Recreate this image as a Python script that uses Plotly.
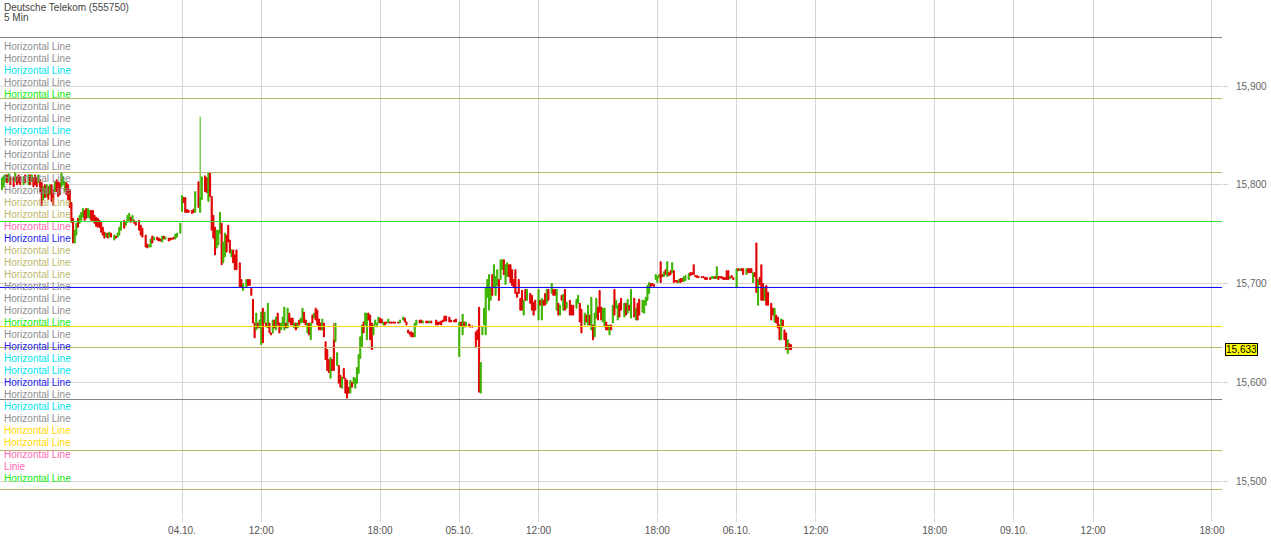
import plotly.graph_objects as go

# 5-minute bars, x = bar number in trading time (08:00-22:00, 168 bars per day; 03.10. 08:00 = 0)
# rows: (bar, open, high, low, close)
oct03 = [
    (59, 15.795, 15.807, 15.795, 15.807), (60, 15.798, 15.809, 15.798, 15.809), (61, 15.803, 15.810, 15.803, 15.810),
    (62, 15.810, 15.810, 15.802, 15.802), (63, 15.803, 15.811, 15.803, 15.811), (64, 15.808, 15.808, 15.800, 15.800),
    (66, 15.807, 15.807, 15.798, 15.798), (67, 15.803, 15.812, 15.803, 15.812), (68, 15.808, 15.808, 15.800, 15.800),
    (69, 15.810, 15.810, 15.802, 15.802), (70, 15.808, 15.808, 15.800, 15.800), (72, 15.800, 15.808, 15.800, 15.808),
    (73, 15.810, 15.810, 15.802, 15.802), (75, 15.800, 15.810, 15.800, 15.810), (76, 15.810, 15.810, 15.800, 15.800),
    (77, 15.803, 15.810, 15.803, 15.810), (78, 15.807, 15.807, 15.798, 15.798), (79, 15.810, 15.810, 15.800, 15.800),
    (80, 15.807, 15.807, 15.798, 15.798), (81, 15.802, 15.810, 15.802, 15.810), (82, 15.805, 15.805, 15.793, 15.793),
    (83, 15.802, 15.802, 15.779, 15.779), (84, 15.785, 15.798, 15.785, 15.798), (85, 15.800, 15.800, 15.787, 15.787),
    (86, 15.788, 15.800, 15.788, 15.800), (87, 15.798, 15.798, 15.785, 15.785), (88, 15.790, 15.800, 15.790, 15.800),
    (89, 15.800, 15.800, 15.783, 15.783), (90, 15.795, 15.795, 15.779, 15.779), (91, 15.793, 15.803, 15.793, 15.803),
    (92, 15.805, 15.805, 15.793, 15.793), (93, 15.803, 15.803, 15.788, 15.788), (94, 15.802, 15.802, 15.790, 15.790),
    (95, 15.798, 15.812, 15.798, 15.812), (96, 15.800, 15.808, 15.800, 15.808), (97, 15.793, 15.803, 15.793, 15.803),
    (98, 15.802, 15.802, 15.790, 15.790), (99, 15.800, 15.800, 15.785, 15.785), (100, 15.795, 15.795, 15.777, 15.777),
    (101, 15.782, 15.782, 15.762, 15.762), (102, 15.766, 15.766, 15.741, 15.741), (103, 15.741, 15.754, 15.741, 15.754),
    (104, 15.749, 15.761, 15.749, 15.761), (105, 15.766, 15.766, 15.757, 15.757), (106, 15.761, 15.769, 15.761, 15.769),
    (107, 15.764, 15.772, 15.764, 15.772), (108, 15.767, 15.776, 15.767, 15.776), (109, 15.774, 15.774, 15.764, 15.764),
    (110, 15.776, 15.776, 15.766, 15.766), (111, 15.767, 15.776, 15.767, 15.776), (112, 15.766, 15.774, 15.766, 15.774),
    (113, 15.774, 15.774, 15.764, 15.764), (114, 15.774, 15.774, 15.764, 15.764), (115, 15.769, 15.769, 15.761, 15.761),
    (116, 15.767, 15.767, 15.758, 15.758), (117, 15.766, 15.766, 15.757, 15.757), (118, 15.764, 15.764, 15.757, 15.757),
    (119, 15.762, 15.762, 15.752, 15.752), (120, 15.757, 15.757, 15.749, 15.749), (121, 15.752, 15.752, 15.746, 15.746),
    (122, 15.747, 15.751, 15.747, 15.751), (123, 15.751, 15.751, 15.746, 15.746), (124, 15.747, 15.752, 15.747, 15.752),
    (125, 15.751, 15.751, 15.747, 15.747), (127, 15.744, 15.749, 15.744, 15.749), (128, 15.748, 15.748, 15.746, 15.746),
    (129, 15.747, 15.751, 15.747, 15.751), (130, 15.749, 15.757, 15.749, 15.757), (131, 15.754, 15.762, 15.754, 15.762),
    (133, 15.764, 15.764, 15.756, 15.756), (134, 15.759, 15.762, 15.759, 15.762), (135, 15.762, 15.769, 15.762, 15.769),
    (136, 15.764, 15.771, 15.764, 15.771), (137, 15.767, 15.767, 15.762, 15.762), (138, 15.764, 15.769, 15.764, 15.769),
    (139, 15.764, 15.764, 15.761, 15.761), (140, 15.762, 15.762, 15.759, 15.759), (142, 15.764, 15.764, 15.754, 15.754),
    (143, 15.759, 15.759, 15.749, 15.749), (144, 15.756, 15.756, 15.747, 15.747), (146, 15.749, 15.749, 15.737, 15.737),
    (147, 15.740, 15.740, 15.736, 15.736), (148, 15.737, 15.739, 15.737, 15.739), (149, 15.737, 15.745, 15.737, 15.745),
    (150, 15.748, 15.748, 15.741, 15.741), (151, 15.744, 15.747, 15.744, 15.747), (153, 15.747, 15.747, 15.744, 15.744),
    (154, 15.746, 15.746, 15.743, 15.743), (155, 15.745, 15.745, 15.743, 15.743), (156, 15.742, 15.748, 15.742, 15.748),
    (157, 15.748, 15.748, 15.745, 15.745), (158, 15.745, 15.747, 15.745, 15.747), (160, 15.746, 15.746, 15.743, 15.743),
    (161, 15.746, 15.746, 15.744, 15.744), (162, 15.746, 15.746, 15.745, 15.745), (163, 15.747, 15.747, 15.745, 15.745),
    (164, 15.745, 15.750, 15.745, 15.750), (165, 15.747, 15.751, 15.747, 15.751), (167, 15.751, 15.761, 15.751, 15.761),
]

oct04 = [
    (168, 15.773, 15.789, 15.773, 15.789), (169, 15.787, 15.787, 15.782, 15.782), (170, 15.787, 15.787, 15.772, 15.772),
    (171, 15.775, 15.775, 15.772, 15.772), (172, 15.774, 15.774, 15.772, 15.772), (174, 15.774, 15.774, 15.771, 15.771),
    (175, 15.775, 15.775, 15.772, 15.772), (176, 15.772, 15.793, 15.772, 15.793), (178, 15.803, 15.803, 15.777, 15.777),
    (179, 15.772, 15.869, 15.772, 15.787), (180, 15.785, 15.808, 15.785, 15.808), (182, 15.809, 15.809, 15.793, 15.793),
    (183, 15.807, 15.807, 15.792, 15.792), (184, 15.783, 15.812, 15.783, 15.812), (185, 15.812, 15.812, 15.788, 15.788),
    (186, 15.788, 15.788, 15.754, 15.754), (187, 15.769, 15.769, 15.746, 15.746), (188, 15.757, 15.757, 15.729, 15.729),
    (189, 15.736, 15.754, 15.736, 15.754), (190, 15.739, 15.754, 15.739, 15.754), (191, 15.751, 15.772, 15.751, 15.772),
    (192, 15.761, 15.761, 15.719, 15.719), (193, 15.721, 15.742, 15.721, 15.742), (194, 15.727, 15.751, 15.727, 15.751),
    (195, 15.749, 15.749, 15.732, 15.732), (196, 15.759, 15.759, 15.742, 15.742), (197, 15.744, 15.744, 15.731, 15.731),
    (198, 15.727, 15.734, 15.727, 15.734), (199, 15.734, 15.734, 15.721, 15.721), (200, 15.729, 15.729, 15.714, 15.714),
    (201, 15.734, 15.734, 15.714, 15.714), (203, 15.721, 15.721, 15.696, 15.696), (204, 15.704, 15.704, 15.696, 15.696),
    (205, 15.693, 15.700, 15.693, 15.700), (207, 15.696, 15.704, 15.696, 15.704), (208, 15.704, 15.704, 15.698, 15.698),
    (209, 15.704, 15.704, 15.698, 15.698), (210, 15.695, 15.695, 15.688, 15.688), (211, 15.684, 15.684, 15.660, 15.660),
    (212, 15.660, 15.660, 15.645, 15.645), (213, 15.653, 15.670, 15.653, 15.670), (214, 15.660, 15.660, 15.655, 15.655),
    (215, 15.655, 15.663, 15.655, 15.663), (216, 15.638, 15.671, 15.638, 15.671), (217, 15.675, 15.675, 15.640, 15.640),
    (218, 15.660, 15.671, 15.660, 15.671), (219, 15.660, 15.660, 15.656, 15.656), (220, 15.655, 15.680, 15.655, 15.680),
    (221, 15.660, 15.660, 15.650, 15.650), (222, 15.650, 15.650, 15.648, 15.648), (223, 15.650, 15.663, 15.650, 15.663),
    (224, 15.663, 15.663, 15.655, 15.655), (225, 15.653, 15.666, 15.653, 15.666), (226, 15.670, 15.670, 15.658, 15.658),
    (227, 15.660, 15.660, 15.650, 15.650), (228, 15.653, 15.660, 15.653, 15.660), (229, 15.656, 15.666, 15.656, 15.666),
    (230, 15.653, 15.676, 15.653, 15.676), (231, 15.660, 15.660, 15.655, 15.655), (232, 15.655, 15.675, 15.655, 15.675),
    (233, 15.670, 15.670, 15.661, 15.661), (234, 15.665, 15.665, 15.658, 15.658), (235, 15.665, 15.665, 15.658, 15.658),
    (236, 15.655, 15.660, 15.655, 15.660), (237, 15.660, 15.660, 15.653, 15.653), (238, 15.655, 15.660, 15.655, 15.660),
    (239, 15.663, 15.663, 15.658, 15.658), (240, 15.660, 15.665, 15.660, 15.665), (241, 15.661, 15.675, 15.661, 15.675),
    (242, 15.671, 15.671, 15.660, 15.660), (243, 15.663, 15.663, 15.658, 15.658), (244, 15.650, 15.660, 15.650, 15.660),
    (245, 15.660, 15.660, 15.648, 15.648), (246, 15.643, 15.660, 15.643, 15.660), (247, 15.668, 15.668, 15.660, 15.660),
    (248, 15.665, 15.670, 15.665, 15.670), (249, 15.675, 15.675, 15.663, 15.663), (250, 15.673, 15.673, 15.658, 15.658),
    (251, 15.664, 15.664, 15.653, 15.653), (252, 15.660, 15.660, 15.653, 15.653), (253, 15.653, 15.664, 15.653, 15.664),
    (254, 15.660, 15.660, 15.646, 15.646), (255, 15.641, 15.641, 15.623, 15.623), (256, 15.633, 15.633, 15.612, 15.612),
    (257, 15.623, 15.623, 15.610, 15.610), (258, 15.604, 15.625, 15.604, 15.625), (259, 15.623, 15.623, 15.612, 15.612),
    (260, 15.643, 15.660, 15.612, 15.612), (261, 15.641, 15.660, 15.641, 15.660), (262, 15.617, 15.630, 15.617, 15.630),
    (263, 15.617, 15.617, 15.599, 15.599), (264, 15.607, 15.607, 15.595, 15.595), (265, 15.594, 15.605, 15.594, 15.605),
    (266, 15.614, 15.614, 15.604, 15.604), (267, 15.604, 15.604, 15.589, 15.589), (268, 15.602, 15.602, 15.584, 15.584),
    (269, 15.595, 15.595, 15.589, 15.589), (270, 15.589, 15.602, 15.589, 15.602), (271, 15.600, 15.600, 15.595, 15.595),
    (272, 15.599, 15.605, 15.599, 15.605), (273, 15.594, 15.604, 15.594, 15.604), (274, 15.599, 15.615, 15.599, 15.615),
    (275, 15.609, 15.628, 15.609, 15.628), (276, 15.624, 15.646, 15.624, 15.646), (277, 15.636, 15.658, 15.636, 15.658),
    (278, 15.661, 15.661, 15.650, 15.650), (279, 15.658, 15.670, 15.658, 15.670), (280, 15.643, 15.670, 15.643, 15.670),
    (281, 15.670, 15.670, 15.663, 15.663), (282, 15.668, 15.668, 15.643, 15.643), (283, 15.660, 15.660, 15.633, 15.633),
    (284, 15.648, 15.658, 15.648, 15.658), (285, 15.658, 15.663, 15.658, 15.663), (286, 15.656, 15.660, 15.656, 15.660),
    (287, 15.660, 15.666, 15.660, 15.666), (288, 15.665, 15.665, 15.660, 15.660), (289, 15.664, 15.664, 15.660, 15.660),
    (290, 15.658, 15.661, 15.658, 15.661), (291, 15.661, 15.661, 15.658, 15.658), (292, 15.661, 15.661, 15.660, 15.660),
    (293, 15.660, 15.664, 15.660, 15.664), (294, 15.661, 15.661, 15.660, 15.660), (295, 15.661, 15.661, 15.660, 15.660),
    (296, 15.661, 15.661, 15.660, 15.660), (297, 15.661, 15.661, 15.660, 15.660), (299, 15.661, 15.661, 15.660, 15.660),
    (300, 15.660, 15.663, 15.660, 15.663), (302, 15.663, 15.666, 15.663, 15.666), (303, 15.665, 15.665, 15.661, 15.661),
    (304, 15.661, 15.661, 15.658, 15.658), (305, 15.653, 15.653, 15.650, 15.650), (306, 15.651, 15.651, 15.648, 15.648),
    (307, 15.651, 15.651, 15.646, 15.646), (308, 15.650, 15.650, 15.646, 15.646), (309, 15.646, 15.660, 15.646, 15.660),
    (310, 15.658, 15.663, 15.658, 15.663), (312, 15.663, 15.663, 15.660, 15.660), (313, 15.663, 15.663, 15.660, 15.660),
    (314, 15.660, 15.662, 15.660, 15.662), (316, 15.662, 15.662, 15.660, 15.660), (317, 15.662, 15.662, 15.660, 15.660),
    (318, 15.660, 15.662, 15.660, 15.662), (319, 15.662, 15.662, 15.660, 15.660), (322, 15.663, 15.663, 15.658, 15.658),
    (323, 15.661, 15.661, 15.658, 15.658), (324, 15.661, 15.661, 15.659, 15.659), (325, 15.662, 15.662, 15.658, 15.658),
    (326, 15.663, 15.663, 15.661, 15.661), (327, 15.667, 15.667, 15.662, 15.662), (328, 15.667, 15.667, 15.662, 15.662),
    (330, 15.666, 15.666, 15.661, 15.661), (331, 15.663, 15.663, 15.661, 15.661), (333, 15.663, 15.663, 15.661, 15.661),
    (334, 15.664, 15.664, 15.661, 15.661),
]

oct05 = [
    (336, 15.626, 15.661, 15.626, 15.661), (337, 15.661, 15.661, 15.657, 15.657), (338, 15.648, 15.669, 15.648, 15.669),
    (339, 15.661, 15.661, 15.656, 15.656), (340, 15.656, 15.661, 15.656, 15.661), (342, 15.659, 15.659, 15.656, 15.656),
    (343, 15.657, 15.657, 15.656, 15.656), (344, 15.657, 15.657, 15.656, 15.656), (346, 15.651, 15.651, 15.636, 15.636),
    (347, 15.653, 15.653, 15.643, 15.643), (348, 15.676, 15.676, 15.590, 15.590), (349, 15.589, 15.620, 15.589, 15.620),
    (350, 15.648, 15.656, 15.648, 15.656), (351, 15.658, 15.675, 15.658, 15.675), (352, 15.648, 15.696, 15.648, 15.696),
    (353, 15.686, 15.704, 15.686, 15.704), (354, 15.673, 15.709, 15.673, 15.709), (355, 15.683, 15.696, 15.683, 15.696),
    (356, 15.709, 15.709, 15.688, 15.688), (357, 15.696, 15.719, 15.696, 15.719), (358, 15.688, 15.707, 15.688, 15.707),
    (359, 15.698, 15.714, 15.698, 15.714), (360, 15.704, 15.704, 15.683, 15.683), (361, 15.704, 15.724, 15.704, 15.724),
    (362, 15.714, 15.724, 15.714, 15.724), (363, 15.724, 15.724, 15.709, 15.709), (364, 15.699, 15.719, 15.699, 15.719),
    (365, 15.707, 15.721, 15.707, 15.721), (366, 15.719, 15.719, 15.707, 15.707), (367, 15.719, 15.719, 15.701, 15.701),
    (368, 15.714, 15.714, 15.698, 15.698), (369, 15.704, 15.704, 15.696, 15.696), (370, 15.714, 15.714, 15.690, 15.690),
    (371, 15.691, 15.691, 15.686, 15.686), (372, 15.704, 15.704, 15.690, 15.690), (373, 15.685, 15.685, 15.673, 15.673),
    (374, 15.693, 15.693, 15.673, 15.673), (375, 15.668, 15.683, 15.668, 15.683), (376, 15.694, 15.694, 15.683, 15.683),
    (377, 15.683, 15.694, 15.683, 15.694), (379, 15.690, 15.690, 15.680, 15.680), (380, 15.688, 15.688, 15.673, 15.673),
    (381, 15.681, 15.681, 15.668, 15.668), (382, 15.683, 15.683, 15.673, 15.673), (384, 15.663, 15.694, 15.663, 15.694),
    (385, 15.683, 15.683, 15.678, 15.678), (386, 15.663, 15.685, 15.663, 15.685), (387, 15.683, 15.683, 15.678, 15.678),
    (388, 15.690, 15.690, 15.678, 15.678), (389, 15.680, 15.694, 15.680, 15.694), (390, 15.694, 15.694, 15.683, 15.683),
    (392, 15.690, 15.700, 15.690, 15.700), (393, 15.694, 15.694, 15.688, 15.688), (394, 15.694, 15.694, 15.688, 15.688),
    (395, 15.673, 15.694, 15.673, 15.694), (396, 15.680, 15.680, 15.668, 15.668), (397, 15.668, 15.678, 15.668, 15.678),
    (398, 15.688, 15.688, 15.683, 15.683), (399, 15.673, 15.689, 15.673, 15.689), (400, 15.694, 15.694, 15.673, 15.673),
    (401, 15.675, 15.681, 15.675, 15.681), (403, 15.683, 15.683, 15.668, 15.668), (404, 15.678, 15.678, 15.668, 15.668),
    (405, 15.678, 15.678, 15.668, 15.668), (407, 15.675, 15.684, 15.675, 15.684), (408, 15.680, 15.688, 15.680, 15.688),
    (409, 15.680, 15.680, 15.661, 15.661), (410, 15.674, 15.674, 15.650, 15.650), (412, 15.658, 15.670, 15.658, 15.670),
    (413, 15.668, 15.668, 15.661, 15.661), (414, 15.658, 15.678, 15.658, 15.678), (415, 15.668, 15.668, 15.658, 15.658),
    (416, 15.653, 15.686, 15.653, 15.686), (417, 15.658, 15.658, 15.643, 15.643), (418, 15.646, 15.670, 15.646, 15.670),
    (419, 15.665, 15.685, 15.665, 15.685), (420, 15.676, 15.676, 15.663, 15.663), (421, 15.693, 15.693, 15.671, 15.671),
    (422, 15.676, 15.676, 15.663, 15.663), (423, 15.661, 15.675, 15.661, 15.675), (424, 15.656, 15.675, 15.656, 15.675),
    (425, 15.661, 15.661, 15.653, 15.653), (426, 15.658, 15.658, 15.653, 15.653), (427, 15.648, 15.658, 15.648, 15.658),
    (428, 15.658, 15.658, 15.653, 15.653), (429, 15.660, 15.678, 15.660, 15.678), (430, 15.694, 15.694, 15.668, 15.668),
    (431, 15.675, 15.683, 15.675, 15.683), (432, 15.663, 15.678, 15.663, 15.678), (433, 15.680, 15.680, 15.666, 15.666),
    (434, 15.685, 15.685, 15.673, 15.673), (436, 15.666, 15.680, 15.666, 15.680), (437, 15.680, 15.680, 15.668, 15.668),
    (438, 15.670, 15.684, 15.670, 15.684), (439, 15.678, 15.678, 15.673, 15.673), (440, 15.665, 15.694, 15.665, 15.694),
    (442, 15.685, 15.685, 15.666, 15.666), (443, 15.663, 15.675, 15.663, 15.675), (444, 15.680, 15.680, 15.663, 15.663),
    (445, 15.684, 15.684, 15.668, 15.668), (447, 15.671, 15.683, 15.671, 15.683), (448, 15.670, 15.683, 15.670, 15.683),
    (449, 15.678, 15.686, 15.678, 15.686), (450, 15.683, 15.698, 15.683, 15.698), (451, 15.690, 15.701, 15.690, 15.701),
    (452, 15.700, 15.700, 15.697, 15.697), (453, 15.700, 15.700, 15.698, 15.698), (454, 15.699, 15.699, 15.697, 15.697),
    (455, 15.704, 15.709, 15.704, 15.709), (456, 15.701, 15.707, 15.701, 15.707), (457, 15.706, 15.709, 15.706, 15.709),
    (458, 15.722, 15.722, 15.701, 15.701), (459, 15.709, 15.709, 15.707, 15.707), (460, 15.707, 15.712, 15.707, 15.712),
    (461, 15.714, 15.714, 15.709, 15.709), (462, 15.707, 15.722, 15.707, 15.722), (463, 15.711, 15.711, 15.708, 15.708),
    (464, 15.713, 15.713, 15.709, 15.709), (465, 15.711, 15.721, 15.711, 15.721), (466, 15.713, 15.713, 15.701, 15.701),
    (467, 15.703, 15.703, 15.702, 15.702), (468, 15.703, 15.703, 15.701, 15.701), (469, 15.701, 15.704, 15.701, 15.704),
    (470, 15.705, 15.705, 15.701, 15.701), (471, 15.705, 15.705, 15.702, 15.702), (472, 15.702, 15.707, 15.702, 15.707),
    (473, 15.703, 15.708, 15.703, 15.708), (475, 15.704, 15.710, 15.704, 15.710), (476, 15.711, 15.711, 15.708, 15.708),
    (477, 15.711, 15.711, 15.709, 15.709), (478, 15.719, 15.719, 15.709, 15.709), (479, 15.708, 15.708, 15.707, 15.707),
    (480, 15.708, 15.708, 15.706, 15.706), (481, 15.707, 15.707, 15.706, 15.706), (483, 15.707, 15.707, 15.706, 15.706),
    (484, 15.707, 15.707, 15.706, 15.706), (485, 15.706, 15.706, 15.704, 15.704), (486, 15.706, 15.706, 15.704, 15.704),
    (488, 15.706, 15.706, 15.704, 15.704), (489, 15.705, 15.707, 15.705, 15.707), (490, 15.705, 15.707, 15.705, 15.707),
    (491, 15.707, 15.707, 15.705, 15.705), (492, 15.705, 15.717, 15.705, 15.717), (493, 15.707, 15.707, 15.704, 15.704),
    (494, 15.707, 15.707, 15.706, 15.706), (495, 15.707, 15.707, 15.705, 15.705), (496, 15.706, 15.706, 15.704, 15.704),
    (497, 15.706, 15.706, 15.704, 15.704), (498, 15.713, 15.713, 15.704, 15.704), (499, 15.713, 15.713, 15.704, 15.704),
    (500, 15.705, 15.707, 15.705, 15.707), (501, 15.708, 15.708, 15.706, 15.706), (502, 15.706, 15.706, 15.704, 15.704),
]

oct06 = [
    (504, 15.696, 15.715, 15.696, 15.715), (505, 15.715, 15.715, 15.713, 15.713), (506, 15.713, 15.715, 15.713, 15.715),
    (507, 15.715, 15.715, 15.713, 15.713), (508, 15.715, 15.715, 15.709, 15.709), (510, 15.709, 15.715, 15.709, 15.715),
    (511, 15.715, 15.715, 15.711, 15.711), (512, 15.715, 15.715, 15.711, 15.711), (513, 15.715, 15.715, 15.711, 15.711),
    (514, 15.701, 15.711, 15.701, 15.711), (515, 15.711, 15.711, 15.707, 15.707), (516, 15.741, 15.741, 15.691, 15.691),
    (517, 15.678, 15.704, 15.678, 15.704), (518, 15.706, 15.706, 15.699, 15.699), (519, 15.719, 15.719, 15.683, 15.683),
    (520, 15.700, 15.700, 15.683, 15.683), (521, 15.683, 15.696, 15.683, 15.696), (522, 15.698, 15.698, 15.678, 15.678),
    (523, 15.691, 15.691, 15.678, 15.678), (525, 15.680, 15.680, 15.663, 15.663), (526, 15.675, 15.675, 15.668, 15.668),
    (527, 15.661, 15.675, 15.661, 15.675), (528, 15.668, 15.668, 15.660, 15.660), (529, 15.666, 15.666, 15.655, 15.655),
    (530, 15.658, 15.658, 15.643, 15.643), (531, 15.643, 15.664, 15.643, 15.664), (532, 15.663, 15.663, 15.656, 15.656),
    (533, 15.653, 15.653, 15.643, 15.643), (534, 15.650, 15.650, 15.633, 15.633), (535, 15.629, 15.643, 15.629, 15.643),
    (536, 15.639, 15.639, 15.633, 15.633), (537, 15.638, 15.638, 15.633, 15.633),
]

last_price = 15.633

x_tick_bars = [168, 216, 288, 336, 384, 456, 504, 552, 624, 672, 720, 792]
x_tick_text = ["04.10.", "12:00", "18:00", "05.10.", "12:00", "18:00", "06.10.", "12:00", "18:00", "09.10.", "12:00", "18:00"]
y_ticks = [15.5, 15.6, 15.7, 15.8, 15.9]

level_values = [15.9491, 15.8873, 15.8124, 15.7628, 15.6960, 15.6565, 15.6352, 15.5825, 15.5309, 15.4914]
level_colors = ["#808080", "#bdb76b", "#bdb76b", "#32dd32", "#0000ff", "#ffd700", "#bdb76b", "#808080", "#bdb76b", "#bdb76b"]

GRAY, CYAN, GREEN, BLUE, PINK, OLIVE, GOLD = "#8e8e8e", "#00e3ee", "#11ee11", "#2222ee", "#ff69b4", "#bdb76b", "#ffd700"
legend_labels = ["Horizontal Line"] * 35 + ["Linie", "Horizontal Line"]
legend_colors = [GRAY, GRAY, CYAN, GRAY, GREEN, GRAY, GRAY, CYAN, GRAY, GRAY, GRAY, GRAY, GRAY,
                 OLIVE, OLIVE, PINK, BLUE, OLIVE, OLIVE, OLIVE, GRAY, GRAY, GRAY, GREEN, GRAY,
                 BLUE, CYAN, CYAN, BLUE, GRAY, CYAN, GRAY, GOLD, GOLD, PINK, PINK, GREEN]

rows = oct03 + oct04 + oct05 + oct06
bars = [r[0] for r in rows]
opens = [r[1] for r in rows]
highs = [r[2] for r in rows]
lows = [r[3] for r in rows]
closes = [r[4] for r in rows]

FONT = "Arial, 'Liberation Sans', sans-serif"
GRID = "#d6d6d6"
W, H = 1271, 536
ML, MR, MT, MB = 0, 49, 0, 20
PW, PH = W - ML - MR, H - MT - MB

fig = go.Figure()
fig.add_trace(go.Candlestick(
    x=bars, open=opens, high=highs, low=lows, close=closes,
    increasing=dict(line=dict(color="#3db300", width=1), fillcolor="#3db300"),
    decreasing=dict(line=dict(color="#e00000", width=1), fillcolor="#e00000"),
    whiskerwidth=0, hoverinfo="skip", showlegend=False,
))

shapes = []
for v, c in zip(level_values, level_colors):
    shapes.append(dict(type="line", xref="paper", x0=0, x1=1, yref="y", y0=v, y1=v,
                       line=dict(color=c, width=1), layer="above"))

annotations = [
    dict(text="Deutsche Telekom (555750)", xref="paper", yref="paper", x=2 / PW, y=1 - 7 / PH,
         xanchor="left", yanchor="middle", showarrow=False, font=dict(family=FONT, size=10, color="#444444")),
    dict(text="5 Min", xref="paper", yref="paper", x=2 / PW, y=1 - 17 / PH,
         xanchor="left", yanchor="middle", showarrow=False, font=dict(family=FONT, size=10, color="#444444")),
]
for i, (t, c) in enumerate(zip(legend_labels, legend_colors)):
    annotations.append(dict(text=t, xref="paper", yref="paper", x=2 / PW, y=1 - (46.5 + 12 * i) / PH,
                            xanchor="left", yanchor="middle", showarrow=False,
                            font=dict(family=FONT, size=10, color=c)))
annotations.append(dict(text="15,633", xref="paper", yref="y", x=1 + 3 / PW, y=last_price,
                        xanchor="left", yanchor="middle", showarrow=False, bgcolor="#ffff00",
                        bordercolor="#000000", borderwidth=1, borderpad=0,
                        font=dict(family=FONT, size=10, color="#000000")))

px_per_bar = 1.6506
x_left = 168 - 182 / px_per_bar
x_right = x_left + PW / px_per_bar
y_per_px = 0.1 / 98.75
y_top = 15.9 + 86 * y_per_px
y_bottom = y_top - PH * y_per_px

fig.update_layout(
    width=W, height=H, margin=dict(l=ML, r=MR, t=MT, b=MB),
    paper_bgcolor="white", plot_bgcolor="white",
    separators=",.", showlegend=False, hovermode=False,
    boxgap=0.35, boxgroupgap=0,
    font=dict(family=FONT, size=10, color="#555555"),
    shapes=shapes, annotations=annotations,
    xaxis=dict(type="linear", range=[x_left, x_right], tickmode="array", tickvals=x_tick_bars, ticktext=x_tick_text,
               showgrid=True, gridcolor=GRID, gridwidth=1, zeroline=False, showline=False,
               ticks="outside", ticklen=5, tickcolor=GRID, tickfont=dict(family=FONT, size=10, color="#555555"),
               rangeslider=dict(visible=False)),
    yaxis=dict(range=[y_bottom, y_top], side="right", tickmode="array", tickvals=y_ticks, tickformat=".3f",
               showgrid=True, gridcolor=GRID, gridwidth=1, zeroline=False, showline=False,
               ticks="outside", ticklen=5, tickcolor=GRID, ticklabelstandoff=6,
               tickfont=dict(family=FONT, size=10, color="#666666")),
)

fig.write_html("out.html", config={"displayModeBar": False},
               post_script="document.body.style.margin='0px';document.body.style.overflow='hidden';")
